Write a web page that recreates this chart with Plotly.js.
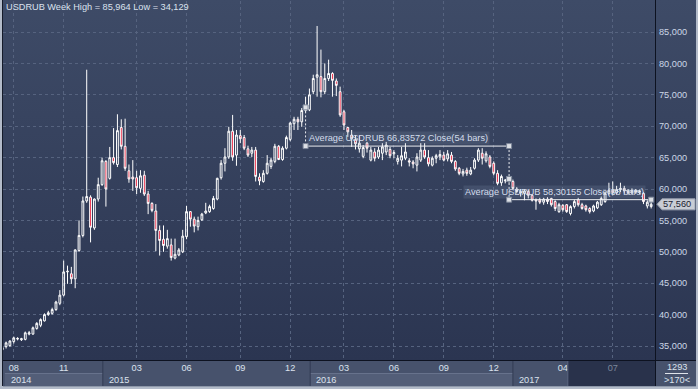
<!DOCTYPE html>
<html>
<head>
<meta charset="utf-8">
<script src="https://cdn.plot.ly/plotly-3.0.1.min.js"></script>
<style>
html,body{margin:0;padding:0;background:#b3bbc9;}
#chart{width:698px;height:389px;position:relative;
 background:
  linear-gradient(to bottom,#3e4b67 0%,#2b3551 100%) 3px 0px/693px 360px no-repeat,
  linear-gradient(#47526c,#47526c) 3px 360px/693px 26px no-repeat,
  #b3bbc9;}
</style>
</head>
<body>
<div id="chart"></div>
<script>
// ---- data (weekly USDRUB bars) ----
const symbol = 'USDRUB';
const period = 'Week';
const opens = [34.40,34.90,35.05,35.70,36.10,36.00,36.05,36.90,36.90,37.80,38.30,39.00,40.00,40.20,40.80,41.80,43.10,46.80,46.50,45.70,
50.20,52.60,58.10,58.70,53.80,58.40,60.70,64.40,61.70,65.00,63.90,69.80,66.80,62.90,61.90,61.80,60.10,62.20,59.20,57.70,
56.50,53.40,52.00,50.90,51.10,49.00,49.50,50.00,52.40,56.40,55.20,54.00,55.10,56.20,56.40,56.90,58.40,61.80,64.10,65.10,
69.20,65.40,68.50,68.20,66.40,65.70,66.20,61.90,61.20,62.50,63.60,64.40,66.80,64.70,66.50,67.90,70.40,71.10,70.70,72.50,
72.60,75.50,77.80,77.90,75.50,77.60,78.40,77.20,75.50,72.30,69.80,68.60,67.90,66.40,65.20,67.30,64.60,65.90,65.10,65.70,
65.90,66.30,65.60,64.40,64.60,64.90,64.50,64.30,63.80,64.60,66.20,65.00,63.80,64.90,65.10,65.40,64.80,65.40,64.40,63.30,
62.40,63.00,62.40,63.30,64.60,65.70,64.50,65.10,64.10,62.50,61.00,61.30,61.50,61.20,60.00,59.60,59.30,59.60,59.00,58.30,
58.30,57.90,58.40,58.50,58.00,56.40,57.40,57.50,56.10,57.20,58.30,57.50,57.30,56.90,56.50,57.00,57.50,58.00,59.30,59.80,
59.40,59.90,60.10,59.70,59.40,59.80,59.50,59.30,57.30,57.20];
const highs = [34.95,35.70,35.90,36.50,36.40,36.30,37.30,37.40,38.10,38.80,39.40,40.20,40.60,41.10,42.20,43.90,48.60,47.80,47.60,50.40,
55.00,58.80,79.00,59.00,58.50,61.80,65.00,64.60,66.70,69.70,71.90,71.10,71.20,63.90,64.60,62.90,63.00,62.90,59.70,57.90,
57.60,54.20,54.20,53.50,52.10,52.10,50.60,53.50,57.30,56.50,55.60,55.60,56.20,57.80,57.50,58.90,61.80,64.60,66.50,69.90,
71.80,69.40,69.40,68.60,66.90,66.70,66.70,62.50,63.00,65.40,65.00,67.20,67.00,66.80,68.50,70.70,71.50,71.50,72.90,74.70,
76.00,78.20,85.964,82.20,80.00,80.60,78.60,77.60,76.30,72.60,69.90,69.40,68.60,68.50,67.00,67.50,66.70,66.50,66.70,67.30,
67.50,66.70,66.20,65.40,66.70,67.30,64.90,64.60,65.70,67.30,67.30,66.20,65.20,65.60,66.20,65.90,66.20,65.90,64.60,63.50,
63.20,63.40,63.50,64.90,66.50,66.50,66.00,65.40,64.40,63.00,62.30,61.60,62.00,61.50,60.30,60.00,60.00,59.90,59.20,58.50,
58.60,58.60,58.70,58.60,58.20,57.80,57.60,57.60,57.40,58.30,58.60,57.80,57.50,57.10,57.50,58.10,58.80,59.60,61.00,61.20,
60.50,61.00,60.50,60.00,60.10,60.00,59.90,59.50,58.20,58.40];
const lows = [34.129,34.60,34.90,35.40,35.90,35.80,35.90,36.70,36.80,37.60,38.00,38.90,39.80,40.00,40.60,41.50,42.90,44.90,44.90,44.20,
50.00,52.30,57.80,51.50,53.50,58.00,60.50,57.20,61.50,63.90,63.50,66.30,62.90,61.00,59.70,59.20,59.40,58.90,56.00,56.30,
50.10,49.40,50.00,50.50,48.60,48.80,49.30,49.80,52.00,54.00,53.10,53.40,54.90,56.00,56.20,56.70,58.20,61.50,62.80,64.80,
64.50,63.70,67.30,66.20,65.10,65.10,61.20,60.60,61.00,62.30,63.20,64.10,64.60,64.50,66.30,67.60,69.40,69.40,69.90,72.20,
72.40,75.10,74.70,74.60,75.10,77.20,74.70,74.80,71.50,69.40,68.30,66.70,66.30,65.80,64.90,65.80,64.40,64.40,64.80,64.60,
65.40,64.90,64.90,63.90,63.60,64.60,63.60,63.30,62.80,64.30,64.80,63.60,63.60,64.10,64.60,64.40,64.40,64.10,62.90,62.20,
62.00,62.10,62.20,63.10,64.30,63.90,64.20,63.30,62.20,60.60,60.50,60.90,61.00,59.90,59.30,58.80,58.20,58.50,58.00,56.70,
57.60,57.50,57.60,57.20,56.50,56.20,56.40,56.20,55.80,56.90,57.20,56.70,56.40,56.10,56.30,56.80,57.30,57.80,59.00,59.00,
59.10,59.50,59.30,59.10,59.20,59.20,59.20,57.60,56.90,56.90];
const closes = [34.75,35.50,35.80,36.30,36.20,36.15,37.10,37.10,37.90,38.60,39.20,40.00,40.30,40.80,42.00,43.10,46.80,46.90,45.70,50.30,
52.60,58.10,58.80,53.90,58.40,60.70,64.50,60.00,65.00,64.20,69.30,66.80,63.30,61.60,61.60,60.20,62.10,59.20,57.70,56.60,
53.40,51.80,51.00,52.10,49.10,49.60,50.30,52.50,56.40,55.20,54.10,55.00,56.00,56.50,57.20,58.50,61.70,64.10,65.10,69.20,
65.10,68.60,68.00,66.50,65.40,66.20,62.00,61.30,62.50,64.10,64.60,66.80,64.70,66.50,68.20,70.50,71.10,70.70,72.50,73.00,
75.00,77.60,78.20,75.50,77.60,78.40,77.30,76.50,71.80,70.20,69.10,68.00,67.20,67.30,66.60,66.50,66.20,64.90,66.20,66.70,
67.00,65.30,65.80,64.90,65.30,65.90,64.30,64.00,65.10,66.20,65.10,64.00,64.90,65.30,65.50,64.60,65.60,64.40,63.20,62.50,
62.80,62.50,63.00,64.60,66.20,64.90,65.60,63.60,62.50,60.90,62.00,61.40,61.60,60.10,59.60,59.40,59.70,59.00,58.20,58.10,
57.90,58.40,58.00,57.50,56.90,57.50,56.70,56.40,57.20,58.00,57.50,56.90,56.70,56.40,57.30,57.90,58.50,59.30,59.80,59.40,
59.90,60.10,59.70,59.40,59.80,59.50,59.60,58.00,57.90,57.56];

// x-axis labels (bar positions of month / year starts)
const monthTickBars = [3,16,35,48,62,75,89,102,115,128,146,159];
const monthTickText = ['08','11','03','06','09','12','03','06','09','12','04','07'];
const yearLabels = ['2014','2015','2016','2017'];
const yearStartBars = [0.7,26.2,80.2,133.0];
const yearEndBar = 147.3;           // start of the dimmed (future) part of the axis band
const yTickVals = [35,40,45,50,55,60,65,70,75,80,85];

// "Average" drawing tools
const avgValues = [66.83572, 58.30155];
const avgStartBars = [79, 132];
const avgEndBars = [132, 169];
const avgBarCounts = [54, 38];

const infoTop = '1293';
const infoBottom = '>170<';

// ---- geometry ----
const N = closes.length;
const xs = Array.from({length:N}, (_, i) => i);
const xRange = [0.2, 170.0];
const yRange = [32.77, 89.94];
const PL = 3, PR = 655, PT = 1, PB = 360;
const pw = PR - PL, ph = PB - PT;
const fx = px => (px - PL) / pw;
const fy = py => (PB - py) / ph;
const barPx = b => PL + (b - xRange[0]) / (xRange[1] - xRange[0]) * pw;
const vPerPx = (yRange[1] - yRange[0]) / ph;
const fmt = (v, d) => v.toFixed(d).replace('.', ',');

const FONT = 'Liberation Sans, Arial, sans-serif';
const FS = 9.2;
const txt = '#dbe2ee';

// ---- traces ----
const candles = {
  type: 'candlestick', x: xs, open: opens, high: highs, low: lows, close: closes,
  increasing: {line: {color: '#ffffff', width: 1}, fillcolor: 'rgba(0,0,0,0)'},
  decreasing: {line: {color: '#ffffff', width: 1}, fillcolor: '#e8102f'},
  whiskerwidth: 0, hoverinfo: 'skip', showlegend: false
};

const lineX = [], lineY = [], dashX = [], dashY = [], mX = [], mY = [];
for (let k = 0; k < avgValues.length; k++) {
  const s = avgStartBars[k], e = avgEndBars[k], a = avgValues[k];
  lineX.push(s, e, null); lineY.push(a, a, null);
  dashX.push(s, s, null, e, e, null); dashY.push(closes[s], a, null, a, closes[e], null);
  mX.push(s, s, e); mY.push(closes[s], a, a);
}
mX.push(avgEndBars[0]); mY.push(closes[avgEndBars[0]]);

const avgLines = {type: 'scatter', mode: 'lines', x: lineX, y: lineY,
  line: {color: '#eef0f4', width: 1}, hoverinfo: 'skip', showlegend: false};
const avgDash = {type: 'scatter', mode: 'lines', x: dashX, y: dashY,
  line: {color: '#eef0f4', width: 1, dash: '2px,2px'}, hoverinfo: 'skip', showlegend: false};
const avgMarks = {type: 'scatter', mode: 'markers', x: mX, y: mY, cliponaxis: false,
  marker: {symbol: 'square', size: 5, color: '#dde0e6', line: {color: '#7d879a', width: 1}},
  hoverinfo: 'skip', showlegend: false};

// ---- shapes ----
const shapes = [];
const rect = (x0, x1, y0, y1, fill, layer) => shapes.push({type: 'rect', xref: 'paper', yref: 'paper',
  x0: fx(x0), x1: fx(x1), y0: fy(y1), y1: fy(y0), fillcolor: fill, line: {width: 0}, layer: layer || 'below'});
const seg = (x0, y0, x1, y1, color, layer) => shapes.push({type: 'line', xref: 'paper', yref: 'paper',
  x0: fx(x0), x1: fx(x1), y0: fy(y0), y1: fy(y1), line: {color: color, width: 1}, layer: layer || 'above'});

// lighter year cells (alternate years)
for (let k = 0; k < yearLabels.length; k += 2) {
  const a = barPx(yearStartBars[k]);
  const b = k + 1 < yearStartBars.length ? barPx(yearStartBars[k + 1]) : barPx(yearEndBar);
  rect(a, b, 373, 386, '#535e78');
  seg(a, 373.5, b, 373.5, '#67728c');
}
// year separators
for (let k = 1; k < yearStartBars.length; k++) {
  const a = barPx(yearStartBars[k]);
  seg(a, 361, a, 386, '#323b54');
}
// dimmed future part of the band
rect(barPx(yearEndBar), PR, 360.5, 386, '#29324b');
seg(barPx(yearEndBar), 361, barPx(yearEndBar), 386, '#5b6680');
// frame lines
seg(PL, 360.5, 696, 360.5, '#0d1220');
seg(655.5, 0, 655.5, 386, '#0d1220');
seg(2.5, 0, 2.5, 386, '#151b2a');
seg(3, 386.5, 696, 386.5, '#8e98aa');
// info box divider
seg(665, 373.5, 688, 373.5, '#dfe3ea');

// last price tag (pointing left at the last close)
const lc = closes[N - 1];
const hh = 5.5 * vPerPx;
shapes.push({type: 'path', xref: 'paper', yref: 'y', layer: 'above',
  path: `M ${fx(657)} ${lc} L ${fx(662)} ${lc + hh} L ${fx(695)} ${lc + hh} L ${fx(695)} ${lc - hh} L ${fx(662)} ${lc - hh} Z`,
  fillcolor: '#c9cdd5', line: {color: '#9aa2b0', width: 1}});

// ---- annotations ----
const maxH = Math.max(...highs), minL = Math.min(...lows);
const annotations = [
  {xref: 'paper', yref: 'paper', x: fx(4), y: fy(7), xanchor: 'left', yanchor: 'middle', showarrow: false,
   text: `${symbol} ${period} High = ${fmt(maxH, 3)} Low = ${fmt(minL, 3)}`, font: {family: FONT, size: FS, color: txt}},
  {xref: 'paper', yref: 'y', x: fx(676.5), y: lc, xanchor: 'center', yanchor: 'middle', showarrow: false,
   text: fmt(lc, 3), font: {family: FONT, size: FS, color: '#1a2131'}},
  {xref: 'paper', yref: 'paper', x: fx(676.5), y: fy(367.5), xanchor: 'center', yanchor: 'middle', showarrow: false,
   text: infoTop, font: {family: FONT, size: FS, color: txt}},
  {xref: 'paper', yref: 'paper', x: fx(676.5), y: fy(379.5), xanchor: 'center', yanchor: 'middle', showarrow: false,
   text: infoBottom.replace('>', '&gt;').replace('<', '&lt;'), font: {family: FONT, size: FS, color: txt}}
];
for (let k = 0; k < yearLabels.length; k++) {
  annotations.push({xref: 'paper', yref: 'paper', x: fx(barPx(yearStartBars[k]) + 4), y: fy(379.5),
    xanchor: 'left', yanchor: 'middle', showarrow: false, text: yearLabels[k],
    font: {family: FONT, size: FS, color: txt}});
}
for (let k = 0; k < avgValues.length; k++) {
  const label = `Average ${symbol} ${fmt(avgValues[k], 5)} Close(${avgBarCounts[k]} bars)`;
  const first = k === 0;
  annotations.push({xref: 'x', yref: 'y', x: first ? avgStartBars[k] : avgEndBars[k], y: avgValues[k],
    xanchor: first ? 'left' : 'right', yanchor: 'bottom', xshift: first ? 1 : -5, yshift: 1,
    showarrow: false, text: label, bgcolor: 'rgba(150,165,195,0.16)', borderpad: 1,
    font: {family: FONT, size: FS, color: '#d3dceb'}});
}

const tickText = monthTickText.map((t, i) => monthTickBars[i] > yearEndBar
  ? `<span style="color:#7c879b">${t}</span>` : t);

const layout = {
  width: 698, height: 389,
  margin: {l: PL, r: 698 - PR, t: PT, b: 389 - PB, pad: 0},
  paper_bgcolor: 'rgba(0,0,0,0)', plot_bgcolor: 'rgba(0,0,0,0)',
  separators: ',.', showlegend: false, boxgap: 0.33, dragmode: false,
  xaxis: {type: 'linear', range: xRange, tickmode: 'array', tickvals: monthTickBars, ticktext: tickText,
    showgrid: true, gridcolor: '#56637f', griddash: '3px,3px', gridwidth: 1, zeroline: false, showline: false,
    ticks: '', ticklabelstandoff: 1, tickfont: {family: FONT, size: FS, color: txt},
    rangeslider: {visible: false}, fixedrange: true},
  yaxis: {side: 'right', range: yRange, tickmode: 'array', tickvals: yTickVals, tickformat: '.3f',
    showgrid: true, gridcolor: '#56637f', griddash: '3px,3px', gridwidth: 1, zeroline: false, showline: false,
    ticks: '', ticklabelstandoff: 3, tickfont: {family: FONT, size: FS, color: '#ccd6e6'}, fixedrange: true},
  shapes: shapes, annotations: annotations
};

Plotly.newPlot('chart', [candles, avgLines, avgDash, avgMarks], layout, {displayModeBar: false, staticPlot: true});
</script>
</body>
</html>
